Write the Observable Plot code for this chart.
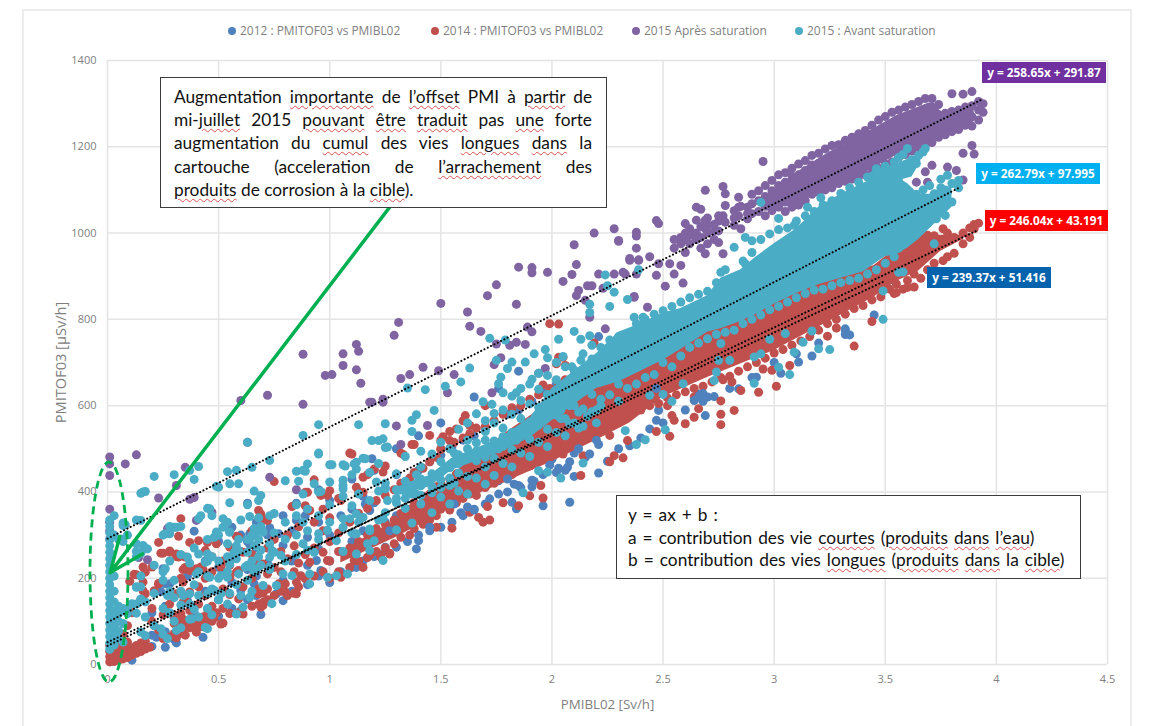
<!DOCTYPE html>
<html><head><meta charset="utf-8">
<script src="https://cdn.jsdelivr.net/npm/d3@7"></script>
<script src="https://cdn.jsdelivr.net/npm/@observablehq/plot@0.6"></script>
<style>
html,body{margin:0;padding:0;background:#fff}
#page{position:relative;width:1155px;height:726px;overflow:hidden;background:#fff}
#frame{position:absolute;left:22px;top:9px;width:1110px;height:760px;border:2px solid #ececec;box-sizing:border-box}
#chart{position:absolute;left:0;top:0}
g[aria-label="x-axis label"],g[aria-label="x-axis label"] text{font-size:13.3px}
g[aria-label="y-axis label"],g[aria-label="y-axis label"] text{font-size:14.6px}
.leg{position:absolute;top:23px;font:11.95px "Open Sans",sans-serif;color:#7f7f7f;white-space:nowrap;line-height:16px}
.leg i{position:absolute;width:8px;height:8px;border-radius:50%;left:-12px;top:4px}
.eq{position:absolute;color:#fff;font:bold 11.8px "Open Sans",sans-serif;text-align:center;line-height:21px;height:21px;white-space:nowrap}
.box{position:absolute;background:#fff;border:1.5px solid #3c3c3c;box-sizing:border-box;font-family:Lato,sans-serif;color:#111}
.box div{white-space:nowrap}
#b1 div{text-align:justify;text-align-last:justify;font-size:17.3px;line-height:23.2px}
#b1 div:last-child{text-align-last:left}
#b2 div{font-size:17.3px;line-height:22.5px;word-spacing:1.6px}
u{text-decoration:underline wavy #d9534f 1px;text-underline-offset:2px}
#ell{position:absolute;left:0;top:0}
</style></head><body>
<div id="page">
<div id="frame"></div>
<div id="chart"></div>
<svg id="ell" width="1155" height="726"><ellipse cx="109" cy="572" rx="19" ry="110" fill="none" stroke="#00b050" stroke-width="2.8" stroke-dasharray="8 5"/></svg>
<div id="legend"></div>
<div id="b1" class="box" style="left:160px;top:77px;width:447px;height:131px;padding:7px 14px 0 13px">
<div>Augmentation <u>importante</u> de <u>l’offset</u> PMI à <u>partir</u> de</div>
<div>mi-<u>juillet</u> 2015 <u>pouvant</u> <u>être</u> <u>traduit</u> pas <u>une</u> forte</div>
<div>augmentation du <u>cumul</u> des vies <u>longues</u> <u>dans</u> la</div>
<div>cartouche (acceleration de <u>l’arrachement</u> des</div>
<div><u>produits</u> de corrosion à la <u>cible</u>).</div>
</div>
<div id="b2" class="box" style="left:616px;top:495px;width:465px;height:84px;padding:8px 0 0 11px">
<div>y = ax + b :</div>
<div>a = contribution des vie <u>courtes</u> (<u>produits</u> <u>dans</u> <u>l’eau</u>)</div>
<div>b = contribution des vies <u>longues</u> (<u>produits</u> <u>dans</u> la <u>cible</u>)</div>
</div>
<div id="eqs"></div>
</div>
<script>
const xTicks=[0,0.5,1,1.5,2,2.5,3,3.5,4,4.5];
const yTicks=[0,200,400,600,800,1000,1200,1400];
const seriesNames=["2012 : PMITOF03 vs PMIBL02","2014 : PMITOF03 vs PMIBL02","2015 Après saturation","2015 : Avant saturation"];
const seriesColors=["#4f81bd","#c0504d","#8064a2","#4bacc6"];
const slopes=[239.37,246.04,258.65,262.79];
const intercepts=[51.416,43.191,291.87,97.995];
const trendEnd=[3.5,3.92,3.94,3.84];
const eqTexts=["y = 239.37x + 51.416","y = 246.04x + 43.191","y = 258.65x + 291.87","y = 262.79x + 97.995"];

// the solid parts of each cloud, where the dots merge: x, lower y, upper y
const redCloud=[[1.05,235,262],[1.3,295,335],[1.5,350,405],[1.6,380,460],[1.8,425,540],[2.0,470,610],[2.2,520,660],[2.35,560,700],[2.5,620,725],[2.7,665,785],[3.0,728,845],[3.2,782,885],[3.45,852,925],[3.55,888,965],[3.65,912,995],[3.75,958,995],[3.85,985,995]];
const redOriginCloud=[[0.02,10,30],[0.1,22,40],[0.18,35,50]];
const redLowCloud=[[0.3,70,95],[0.4,80,115],[0.5,100,125]];
const purpleCloud=[[2.95,1055,1082],[3.1,1065,1140],[3.25,1108,1188],[3.4,1138,1228],[3.55,1180,1272],[3.7,1210,1302],[3.78,1232,1272],[3.9,1258,1292]];
const tealCloud=[[1.3,390,410],[1.45,412,438],[1.55,450,478],[1.75,488,520],[1.9,525,570],[2.0,565,640],[2.2,640,720],[2.3,655,770],[2.4,680,790],[2.5,705,815],[2.58,730,825],[2.7,770,855],[2.76,778,895],[2.85,795,915],[2.92,812,945],[3.0,835,975],[3.1,860,1010],[3.2,880,1060],[3.3,895,1090],[3.4,910,1115],[3.5,945,1140],[3.55,950,1130],[3.6,965,1115],[3.65,985,1090],[3.72,1020,1090],[3.8,1060,1110]];
const tealLobe=[[3.42,1105,1135],[3.45,1120,1145],[3.55,1120,1160],[3.62,1130,1175],[3.66,1165,1185]];

// each row: x, then the y values read at that x
const blueCols=[
[0.11,10,38],[0.2,42,68,120],[0.22,63],[0.24,169],[0.25,222],[0.26,40,76,135,187],[0.28,187],[0.3,58,108,160],[0.31,50],[0.36,92,148,205],[0.39,120,309],[0.43,63],[0.44,99,170,240],[0.45,129],[0.5,112,150,225,285],[0.52,210],[0.55,307],
[0.56,130,190,245,318],[0.6,125,172,262,300],[0.63,150,220,285,374],[0.64,303,278],[0.66,187],[0.67,160,205,270,330],[0.69,116],[0.72,148,235,300],[0.73,317],[0.76,164],[0.77,303],[0.79,148,195,276,345],[0.83,170,240,310],[0.85,334,374],[0.89,345],
[0.9,185,230,295,360],[0.94,241],[0.95,205,268,330,405],[0.96,218],[1.0,190,240,300,380],[1.05,215,262,345],[1.1,225,285,360,430],[1.12,225],[1.13,272],[1.15,240,310,390],[1.16,372],[1.18,357],[1.19,477],[1.2,250,300,375,450],
[1.25,265,272,330,410],[1.3,272,345,440,500],[1.35,285,340,420],[1.39,268],[1.4,287,300,362,450,530],[1.45,310,380,470],[1.5,318,392,485,560],[1.55,330,410,505],[1.6,345,425,520],
[1.65,360,440,530,620],[1.7,372,450,545],[1.72,384],[1.76,395,426,500,640],[1.8,400,470,580],[1.82,376],[1.84,361],[1.85,415,490,590,680],[1.91,412,427,510,610],[1.92,425],[1.96,368,440,530,630],[2.0,476],[2.02,445,545,650],[2.07,457],
[2.08,376,470,560],[2.1,436,490,590],[2.15,480,575,680],[2.21,444,510,600,760],[2.25,471],[2.3,500,560,640],[2.35,507],[2.4,525,600,700],[2.44,546],[2.47,566],[2.48,589],[2.5,560,640,730],[2.6,590,660],[2.66,627],[2.69,577],[2.7,620,690],[2.73,621],[2.8,640,720],[2.84,639],
[2.9,665,730],[2.92,666],[3.0,700,780],[3.03,675],[3.1,720,790],[3.11,701],[3.17,715],[3.2,745,810],[3.32,774,778,765,840],[3.34,764],[3.45,810,870]
];
const blueOverCols=[[1.27,310],[1.3,312],[1.45,318],[1.56,372],[1.59,352],[1.62,365],[1.65,358],[1.8,430],[1.83,418],[1.86,410],[1.99,462],[2.03,455],[2.06,450],[2.12,500],[2.17,488],[2.2,520],[2.47,640],[2.64,612],[2.66,620],[2.68,610],[2.68,628]];
const redCols=[
[0.01,6,18,30,44],[0.03,7,20,34,48],[0.05,10,24,40],[0.07,13,30,46,70],[0.09,16,34,52,90,30],[0.1,193],[0.11,22,38,120,28],[0.12,209],[0.13,26,44,208,34],[0.15,30,50,150,36],[0.16,226,191,171],[0.17,36,54,164,214],[0.19,40],[0.2,100,130,226],[0.21,171,90],
[0.23,80,187,188,283],[0.24,258],[0.25,60,115,258],[0.28,64,140,260,263],[0.3,72,95,115],[0.31,62,100,164,250,256],[0.32,297,249],[0.33,72,118,200,338,90],[0.34,144,191,220,105],[0.35,68,150,225,249],[0.37,85,125,168,218,283,100],[0.4,222,75],[0.41,92,140,180,287],[0.42,226,88],
[0.43,220,110],[0.44,100,160,200,264],[0.45,164,283,118],[0.47,100,135,215,250],[0.49,280,120],[0.51,94,226],[0.52,96,130,175,240],[0.53,241],[0.55,118,162,230,202,272],[0.58,214,297],[0.59,120,152,218,295],[0.61,117,180,260],[0.65,135,200,255,310],[0.68,140,164,175,237,357],[0.69,133,349],[0.7,137,144,165,233,338],[0.71,335],[0.72,150,175,210,270,334],
[0.75,160,225,290,424],[0.77,187],[0.78,170,215,262],[0.8,187,168],[0.81,160,245,300],[0.83,366],[0.84,165,215,275],[0.85,164,191],[0.86,180,235,319],[0.87,206],[0.89,199,255,368,399],[0.9,399],[0.91,237,357],[0.93,205,270,330,428],[0.96,392],[0.97,215,260,310,360],[0.99,241,392],
[1.0,200,240,285,340,403],[1.04,215,262,305,385],[1.05,202,380],[1.09,225,270,330,490],[1.1,264,488],[1.11,241],[1.12,411],[1.13,240,285,350,400],[1.15,225,399,434],[1.17,248,300,362,440],[1.18,253],[1.2,453],[1.21,262,315,380],[1.23,249,253],[1.24,446],[1.25,270,325,392,460],[1.27,258,256],[1.29,280,335,405],[1.32,295,350,420,490],
[1.33,487],[1.36,300,360,432],[1.37,510],[1.38,315,375,445,510],[1.42,325,390,455],[1.45,335,395,470,531],[1.48,318,345,412,480],[1.5,360,420,498,500,520],[1.51,528],[1.54,358,430,500,519,540],[1.55,316],[1.56,515],[1.57,375,442,546],[1.6,385,450,525,565],[1.61,577],
[1.63,353,395,462,535,554],[1.66,392,475,548],[1.67,341],[1.69,330],[1.7,410,480,552,600],[1.71,366],[1.72,335],[1.74,420,495,565],[1.78,375,432,505,580],[1.82,440,515,595],[1.85,368],[1.86,455,530,600],[1.9,391,460,538,615],[1.94,472,550,625],[1.95,415],[1.96,386,480,560,648],
[1.99,490,570,640,790],[2.02,697],[2.03,495,575,650,789,712],[2.05,488,712],[2.06,505,590,660,693],[2.1,515,600,670],[2.13,438],[2.14,484,525,612,682],[2.16,673],[2.19,540,625,695,745],[2.24,555,640,705],[2.26,470,531,668],[2.28,484,565,650,715],[2.32,479,575,662,685,725],
[2.34,519],[2.36,585,635,680],[2.4,590,640],[2.44,600],[2.47,540],[2.48,605],[2.52,600,618],[2.53,529],[2.54,577],[2.55,566],[2.56,625],[2.6,558,632],[2.64,573,620,640],[2.66,593],[2.68,645],[2.72,655],[2.76,556,580,611,665],[2.77,660],[2.8,668],[2.81,655],[2.82,589],[2.84,680],[2.85,635],[2.88,690],
[2.92,700],[2.93,631],[2.95,685],[2.96,710],[2.99,682],[3.0,722],[3.01,645],[3.04,730],[3.07,693],[3.08,740],[3.12,750],[3.16,760],[3.2,775],[3.24,761,790],[3.28,780,800],[3.32,812],[3.36,738,825],[3.4,832],[3.44,795,845],[3.48,852],[3.52,870],
[3.54,860],[3.55,862,882,915,960],[3.58,870,925,965],[3.6,874,890,935,975],[3.63,875,905,945,985],[3.66,895,950,990],[3.69,915,965,995],[3.72,930,975,994],[3.76,936,985,1010],[3.78,945,1000],[3.81,953,990],
[3.85,975,1000],[3.88,990,1012],[3.9,1010,1020],[3.92,1023]
];
const purpleCols=[
[0.01,481,465,438,360,330,290,310],[0.13,486],[0.08,465],[0.35,457],[0.31,415],[0.23,386],[0.37,383],[0.39,387],[0.63,515],[0.4,334],[0.47,353],[0.27,315],[0.14,248],[0.18,243],[0.73,434],[0.85,405],
[0.6,612],[0.72,624],[0.88,719,603],[0.98,670],[1.01,672],[1.06,720,693],[1.12,742,683],[1.13,726],[1.14,652],[1.18,608],[1.19,608],[1.24,615,608],[1.29,763],[1.3,553],[1.31,793],[1.32,663,510],
[1.36,672],[1.42,689],[1.44,554],[1.49,681],[1.5,837],[1.53,630],[1.56,672],[1.62,817],[1.63,784],[1.68,772],[1.71,855],[1.73,630],[1.74,695],[1.75,880,743],[1.77,711],[1.81,740],[1.84,835,747],
[1.85,921],[1.88,742],[1.89,782],[1.91,920,908,771],[1.94,675],[1.97,686],[1.98,909],[2.05,888],[2.09,904],[2.1,973],[2.11,927,855],[2.12,867],[2.15,844],[2.16,878],[2.17,805],[2.18,878],[2.19,1000],
[2.21,905],[2.23,872],[2.24,778],[2.28,1010,905],[2.3,983,981],[2.32,909],[2.33,905],[2.35,941,937],[2.37,853,851],[2.38,1002,993,965,905],[2.39,938,937],[2.4,759],[2.43,828],[2.44,945],[2.47,1029,902],
[2.48,929,1022],[2.51,877],[2.53,929],[2.55,905,965,985],[2.58,925,990,975],[2.59,884],[2.6,955,985,1000,1022],[2.62,975,1010,995],[2.65,1060,1000,1030,985],[2.67,1055,965,990,1015],[2.69,1099,952,1010,1030],[2.7,975,1000,1035,1018],
[2.73,985,1005,1020],[2.75,978,1005,1028,1040],[2.77,1108,952,1040],[2.78,1091,1064,1025],[2.82,1052,1018,1035],[2.84,1083,1040,1060],[2.85,1010,1062],[2.88,1033,1060,1045],[2.95,1166],
[2.9,1045,1068,1090],[2.93,1050,1075,1098],[2.96,1040,1062,1085,1110],[2.99,1052,1075,1098,1122],[3.02,1060,1085,1110,1135],[3.05,1050,1072,1095,1118,1140],[3.08,1060,1085,1108,1132,1150],[3.11,998,1065,1090,1112,1135,1160],
[3.14,1075,1100,1122,1145,1168],[3.17,1090,1158,1180],[3.2,1095,1162,1185],[3.23,1100,1170,1195],[3.26,1105,1175,1203],[3.29,1115,1182,1205],[3.32,1120,1190,1215],
[3.35,1125,1195,1222],[3.38,1130,1202,1230],[3.41,1135,1210,1238],[3.44,1145,1220,1250],[3.46,1083],[3.47,1150,1228,1262],[3.5,1160,1238,1270],[3.53,1165,1245,1280],
[3.54,1094],[3.56,1175,1252,1285],[3.59,1182,1262,1292],[3.62,1190,1270,1298],[3.64,1118],[3.65,1198,1278,1305],[3.68,1142,1205,1285,1312],[3.69,1118],[3.71,1157,1210,1292,1312],
[3.74,1222,1248,1272,1298],[3.77,1228,1252,1278],[3.78,1153],[3.8,1235,1258,1282,1323],[3.82,1145],[3.83,1240,1262,1285],[3.85,1185,1123,1322],[3.86,1250,1272,1292],[3.89,1203,1248,1270,1295,1328],[3.9,1183],[3.92,1262,1285,1305],[3.94,1280,1300]
];
const tealCols=[
[0.01,35,50,65,80,95,110,125,140,155,170,185,200,215,230,245,260,275,290,305,320,335],[0.03,45,62,78,92,108,124,145,170,205,300,345],[0.05,60,78,100,118,135,290],[0.06,291],[0.07,52,95,130,285,322,328],[0.08,324],[0.09,128,118,300],
[0.11,141],[0.13,119,140,179,180,250,262,280,335],[0.15,75,150,152,180,205,258,334,397],[0.16,276,400],[0.17,67,110,145,270,401],[0.18,268],[0.21,90,165,230,436],[0.24,83],[0.25,70,130,195,215,300],[0.26,303,222],[0.27,60,160],[0.28,120,170,240,303,320],[0.3,100,155,195,318,440],[0.31,79,318],[0.33,85,138,170,255,320],[0.34,160],[0.36,249],[0.37,105,140,164,235,450],
[0.38,106],[0.39,128,185,270,429],[0.4,210],[0.41,110,160,215,256,338,459],[0.42,345],[0.44,86,237],[0.45,83,130,165,205,240,256,290,362],[0.46,202,361],[0.47,115,175,250,345],[0.48,172,295],[0.49,307,413],[0.5,150,200,240,300,411],[0.51,164,206],[0.52,318,338],[0.54,140,202,215,250,280,330,447],[0.55,165,232,307,375,419],[0.57,260],[0.58,117,185,245,275,450],[0.59,210,264,290,419],
[0.6,160,335],[0.61,133],[0.62,226],[0.63,195,230,260,290,370,515],[0.64,156,226,291,343],[0.65,170,240,300,457],[0.66,215,275,315,402],[0.67,222,307],[0.68,250,290,340,380],[0.69,230,265,320,392],[0.7,183,307],[0.73,220,226,249,280,345,473],[0.74,141,264],[0.75,260,305,350],[0.76,183],[0.78,253],[0.79,210],[0.8,240,290,330,426],[0.83,206],[0.85,255,300,345,370,448],[0.86,425],[0.88,280,330,395,450,531],
[0.89,448],[0.9,265,310,360,465],[0.91,187,210],[0.93,260,419],[0.95,290,303,345,400,488,490,556],[0.96,401],[0.99,202,311],[1.0,330,370,423,463],[1.01,463],[1.03,206,287],[1.06,262,318,338,390,407,415,463,427],[1.07,460],[1.08,210],[1.09,338],[1.1,305,368,440],[1.11,465],[1.12,256,303,349,453,469],[1.13,330,395,556],[1.15,341,478],[1.16,477],[1.17,280],[1.18,264,310,314,380,445],[1.19,519],[1.2,287],[1.21,423],[1.22,335,402,466,519],[1.24,241,338,523],[1.25,352,407,420,503,558],[1.26,380,504],
[1.3,312,375,385,405,442],[1.34,362,385,400,425,482],[1.35,641],[1.37,328,395,415,540,566],[1.39,579,440,395,420],[1.41,372,414,458,494,392,430],[1.43,637],[1.46,352,398,412,442,488],[1.47,589],[1.5,388,410,428,445,470,515],[1.52,645],[1.54,372,415,432,456,500],[1.56,420,470,490],[1.58,402,444,466,486,545],
[1.59,655,480],[1.62,395,436,478,500,520,560],[1.63,687],[1.66,432,472,495,514,581],[1.69,609],[1.7,418,458,480,498,520,540,565],[1.72,756,505],[1.73,603],[1.74,438,478,518,560,582],[1.75,705],[1.76,651,500],[1.77,666],[1.78,466,506,528,548,590,630],[1.79,752],
[1.8,686],[1.82,458,498,538,580,622,701],[1.84,630,520],[1.86,490,530,570,612,640],[1.87,398],[1.88,701],[1.9,482,522,562,604,650],[1.91,661],[1.92,720],[1.94,449,515,555,596,638,675],[1.97,730],[1.98,446,505,545,585,626,670,711],[2.02,538,578,618,660,700],[2.03,754],[2.04,432,570,590],
[2.05,714],[2.06,530,570,610,650,690],[2.08,558,600],[2.09,690],[2.1,560,600,640,682,772],[2.12,548,585],[2.13,705,754],[2.14,467,552,592,632,672,720],[2.16,575],[2.17,762,835,816],[2.18,586,626,666,708,740],[2.2,560,590],[2.22,600,615,655,695,735],[2.24,903],[2.25,878],[2.26,625,670,710,752,830],
[2.28,863],[2.3,610,650,720,760],[2.33,542],[2.34,640,745,846],[2.35,759],[2.37,805],[2.38,510,650,790],[2.39,915],[2.41,805,790],[2.42,521,665,800],[2.44,624],[2.46,672,812],[2.5,626,700,820],[2.51,544],[2.54,610,690,830],[2.58,715,840],[2.59,651],[2.62,735,850],[2.66,745,858],[2.7,755,865],[2.73,658],[2.74,678,765,885],[2.75,705],[2.76,744,909],[2.78,770,915],[2.8,705],[2.82,775,967],
[2.86,790,935],[2.87,990,929],[2.9,800,955,982],[2.91,652,713],[2.94,720,810,985,1071],[2.98,754,822,998],[3.02,689,830,1008,1034],[3.05,767],[3.06,840,1012],[3.07,672],[3.09,724,1018],[3.1,850,1028],[3.13,747],[3.14,860,1040],[3.15,1060],[3.17,773],[3.18,868,1050],[3.2,732],[3.21,1082],
[3.22,870,1065],[3.25,730],[3.26,878,1075],[3.3,885,1092],[3.34,890,1105],[3.38,895,1118],[3.42,905,1130],[3.46,915,1149],[3.49,800,866],[3.5,930,1155],[3.54,945,1140,1165],[3.56,909,965,1050,1085,1120,1175],[3.58,975,1005,1060,1148,1182,910],
[3.6,1196,1005,1040,1072,1155],[3.62,1000,1025,1050,1082,1170,1160],[3.64,1161,1020,1062,1090],[3.65,1024,1180],[3.67,1188,1040,1072,1100],[3.68,1196],[3.7,1050,1080,1110],[3.72,1091,1060,975],[3.73,1090,1033],
[3.75,1075,1105,1125],[3.77,1063,1041,1100],[3.78,1134,1095],[3.8,1072,1115],[3.83,1122,1105]
];

const rows=cols=>cols.flatMap(([x,...ys])=>ys.map(y=>({x,y})));
const cloud=c=>c.map(([x,y1,y2])=>({x,y1,y2}));
const r=4.5;
const trendRows=slopes.map((a,i)=>[{x:0,y:intercepts[i],s:i},{x:trendEnd[i],y:a*trendEnd[i]+intercepts[i],s:i}]).flat();
const arrowRow=[{x1:1.27,y1:1060,x2:0.012,y2:213}];
const area=(c,i)=>Plot.areaY(cloud(c),{x:"x",y1:"y1",y2:"y2",fill:seriesColors[i]});

const chart=Plot.plot({
  width:1155,height:726,marginLeft:107,marginRight:48,marginTop:60,marginBottom:62,
  style:{background:"transparent",fontFamily:'"Open Sans",sans-serif',fontSize:"11px",color:"#808080"},
  x:{domain:[0,4.5],range:[107,1107]},
  y:{domain:[0,1400],range:[664,60]},
  marks:[
    Plot.gridX(xTicks,{stroke:"#e4e4e4",strokeOpacity:1,strokeWidth:1.5}),
    Plot.gridY(yTicks,{stroke:"#e4e4e4",strokeOpacity:1,strokeWidth:1.5}),
    Plot.axisX(xTicks,{tickSize:0,tickPadding:11,tickFormat:d=>String(d),label:"PMIBL02 [Sv/h]",labelAnchor:"center",labelArrow:"none",labelOffset:44}),
    Plot.axisY(yTicks,{tickSize:0,tickPadding:11,tickFormat:d=>String(d),label:"PMITOF03 [µSv/h]",labelAnchor:"center",labelArrow:"none",labelOffset:52}),
    Plot.dot(rows(blueCols),{x:"x",y:"y",r,fill:seriesColors[0]}),
    area(redCloud,1),area(redOriginCloud,1),area(redLowCloud,1),
    Plot.dot(rows(redCols),{x:"x",y:"y",r,fill:seriesColors[1]}),
    Plot.dot(rows(blueOverCols),{x:"x",y:"y",r,fill:seriesColors[0]}),
    area(purpleCloud,2),
    Plot.dot(rows(purpleCols),{x:"x",y:"y",r,fill:seriesColors[2]}),
    area(tealCloud,3),area(tealLobe,3),
    Plot.dot(rows(tealCols),{x:"x",y:"y",r,fill:seriesColors[3]}),
    Plot.line(trendRows,{x:"x",y:"y",z:"s",stroke:"#000",strokeWidth:2,strokeDasharray:"0.1 3.6",strokeLinecap:"round"}),
    Plot.arrow(arrowRow,{x1:"x1",y1:"y1",x2:"x2",y2:"y2",stroke:"#00b050",strokeWidth:3.5,headLength:16,headAngle:45,bend:0})
  ]
});
document.getElementById("chart").appendChild(chart);

const legendLeft=[240,443,644,807];
document.getElementById("legend").innerHTML=seriesNames.map((n,i)=>`<div class="leg" style="left:${legendLeft[i]}px"><i style="background:${seriesColors[i]}"></i>${n}</div>`).join("");

const eqPlace=[[927,267,124,"#0563ae"],[985,210,123,"#ff0000"],[982,62,124,"#7030a0"],[976,163,124,"#00b0f0"]];
document.getElementById("eqs").innerHTML=eqTexts.map((t,i)=>{const [l,tp,w,c]=eqPlace[i];return `<div class="eq" style="left:${l}px;top:${tp}px;width:${w}px;background:${c}">${t}</div>`}).join("");
</script>
</body></html>
